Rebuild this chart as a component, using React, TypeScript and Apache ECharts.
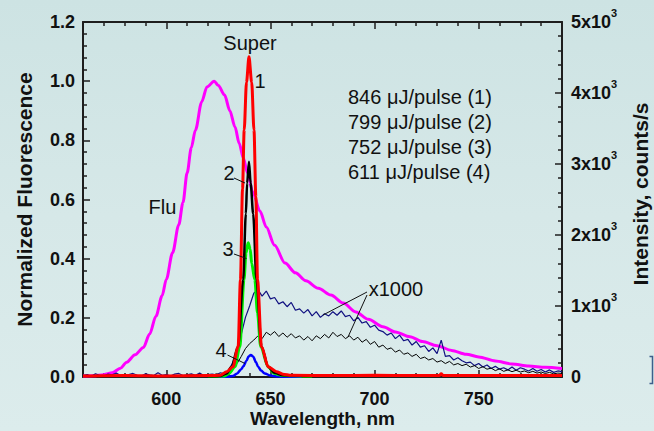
import { useEffect, useRef } from 'react';
import * as echarts from 'echarts';

// ---------- axis ticks ----------
const xMajorTicks = [600, 650, 700, 750];
const xMinorTicks = [570, 580, 590, 610, 620, 630, 640, 660, 670, 680, 690, 710, 720, 730, 740, 760, 770, 780];

// ---------- Flu (normalized, left axis) ----------
const fluWl = [560, 565, 570, 574, 578, 581, 585, 589, 592, 595, 598, 600, 603, 606, 608, 610, 612, 614, 617, 619.5, 623, 625, 628, 630.5, 633, 635, 637, 639, 641.5, 645, 648, 652, 657, 662, 667, 673, 679, 685, 691, 697, 704, 710, 717, 723, 730, 737, 744, 750, 758, 766, 774, 782, 790];
const fluVal = [0.003, 0.004, 0.008, 0.014, 0.03, 0.05, 0.075, 0.1, 0.145, 0.205, 0.275, 0.33, 0.42, 0.515, 0.59, 0.69, 0.775, 0.835, 0.93, 0.98, 1.0, 0.985, 0.953, 0.9, 0.845, 0.79, 0.74, 0.69, 0.625, 0.56, 0.507, 0.445, 0.385, 0.352, 0.325, 0.3, 0.277, 0.25, 0.22, 0.195, 0.17, 0.152, 0.136, 0.12, 0.106, 0.09, 0.077, 0.068, 0.054, 0.044, 0.037, 0.033, 0.029];

// ---------- Super emission (counts/s, right axis) ----------
const super1: [number, number][] = [[560, 15], [580, 22], [600, 15], [620, 20], [626, 25], [629, 75], [632, 145], [634.5, 430], [635.6, 1370], [636.6, 2650], [637.4, 3480], [638.5, 4150], [639.7, 4510], [641, 4150], [642.1, 3480], [643, 2540], [643.8, 1370], [645.7, 430], [648.9, 145], [652.9, 75], [656, 40], [660, 25], [680, 20], [700, 25], [720, 20], [731, 20], [732, 45], [733, 20], [760, 20], [790, 20]];
const super2: [number, number][] = [[620, 10], [626, 15], [629, 50], [631.3, 145], [634.5, 430], [636.9, 1370], [638.2, 2300], [638.8, 2730], [639.7, 3030], [640.5, 2730], [641.7, 2300], [643.3, 1370], [645.7, 430], [648.9, 145], [652, 60], [656, 25], [670, 15]];
const super3: [number, number][] = [[620, 10], [628, 15], [630, 50], [633, 145], [635.3, 430], [637.3, 1370], [638.3, 1750], [639.3, 1890], [640.3, 1800], [641, 1600], [642.5, 1370], [643.8, 900], [645.3, 430], [648.9, 145], [652, 50], [656, 20], [670, 10]];
const super4: [number, number][] = [[625, 5], [630, 5], [632, 15], [634, 50], [636, 110], [637, 150], [638.5, 230], [639.5, 290], [640.6, 310], [641.7, 290], [643, 210], [644.1, 145], [645.5, 90], [647.3, 50], [650, 20], [653, 8], [656, 5], [665, 5]];

// ---------- x1000 spectra (counts/s, right axis), sampled every 2 nm ----------
const navyStart = 560;
const blackStart = 610;
const sampleStep = 2;
const x1000Navy = [
  20, 35, 10, 45, 25, 15, 40, 30, 55, 20, 10, 35, 50, 25, 15, 45, 30, 20, 60, 25, 35, 15, 40, 50, 20, 30, 45, 25, 55, 20, 35, 40, 30, 60, 45,
  90, 210, 400, 600, 840, 1000, 1180, 1230, 1140, 1210, 1100, 1120, 1030, 1060, 990, 1050, 940, 960, 900, 950, 860, 920, 840, 890, 860, 920,
  870, 930, 850, 870, 790, 840, 760, 780, 700, 730, 660, 640, 590, 620, 540, 590, 510, 530, 450, 500, 420, 440, 360, 410, 330, 520, 290,
  300, 240, 270, 230, 200, 210, 160, 190, 140, 170, 120, 150, 110, 130, 100, 140, 95, 130, 110, 85, 120, 80, 105, 70, 100, 65, 85, 75,
];
const x1000Black = [
  15, 30, 20, 40, 25, 35, 20, 45, 30,
  50, 90, 140, 190, 290, 400, 470, 520, 580, 540, 630, 590, 640, 570, 620, 560, 610, 550, 580, 520, 570, 510, 580, 540, 600, 550, 630,
  570, 600, 540, 580, 520, 560, 490, 530, 460, 500, 420, 450, 390, 410, 350, 380, 320, 340, 290, 320, 260, 280, 240, 260, 210, 230, 190,
  220, 170, 190, 160, 180, 140, 160, 120, 145, 110, 125, 90, 115, 80, 100, 75, 95, 70, 85, 60, 80, 55, 70, 50, 65, 45, 55, 50,
];

// ---------- annotations ----------
const legendLines = ['846 μJ/pulse (1)', '799 μJ/pulse (2)', '752 μJ/pulse (3)', '611 μJ/pulse (4)'];

const FONT = '"Liberation Sans", Arial, Helvetica, sans-serif';
const AX = '#1e1e1e';

export default function App() {
  const ref = useRef<HTMLDivElement>(null);

  useEffect(() => {
    if (!ref.current) return;
    const chart = echarts.init(ref.current, undefined, { renderer: 'svg' });

    const fluData = fluWl.map((w, i) => [w, fluVal[i]]);
    const navyData = x1000Navy.map((v, i) => [navyStart + i * sampleStep, v]);
    const blackData = x1000Black.map((v, i) => [blackStart + i * sampleStep, v]);

    const baseX = {
      type: 'value' as const,
      min: 560,
      max: 790,
      splitLine: { show: false },
    };
    const tickStyle = { color: AX, width: 1.5 };
    const lineStyleAx = { color: AX, width: 2 };

    const lineSeries = (name: string, data: any, color: string, width: number, yAxisIndex: number, z: number, smooth: number | boolean) => ({
      name,
      type: 'line',
      data,
      xAxisIndex: 0,
      yAxisIndex,
      showSymbol: false,
      symbol: 'none',
      smooth,
      smoothMonotone: 'x',
      lineStyle: { color, width },
      z,
      silent: true,
    });

    const legendGraphics = legendLines.map((t, i) => ({
      type: 'text',
      x: 348,
      y: 97 + i * 25,
      z: 100,
      style: { text: t, fontSize: 20, fontFamily: FONT, fill: '#111', align: 'left', verticalAlign: 'middle' },
    }));

    const txt = (text: string, x: number, y: number) => ({
      type: 'text',
      x,
      y,
      z: 100,
      style: { text, fontSize: 20, fontFamily: FONT, fill: '#111', align: 'center', verticalAlign: 'middle' },
    });
    const leader = (x1: number, y1: number, x2: number, y2: number) => ({
      type: 'line',
      z: 100,
      shape: { x1, y1, x2, y2 },
      style: { stroke: '#111', lineWidth: 1 },
    });

    chart.setOption({
      animation: false,
      backgroundColor: 'transparent',
      grid: { left: 83, right: 92, top: 22, bottom: 54, containLabel: false, outerBoundsMode: 'none' },
      xAxis: [
        {
          ...baseX,
          position: 'bottom',
          axisLine: { show: true, onZero: false, lineStyle: lineStyleAx },
          axisTick: { show: true, inside: true, length: 7, customValues: xMajorTicks, lineStyle: tickStyle },
          axisLabel: {
            customValues: xMajorTicks,
            fontSize: 18,
            fontWeight: 'bold',
            fontFamily: FONT,
            color: '#111',
            margin: 13,
          },
          name: 'Wavelength, nm',
          nameLocation: 'middle',
          nameGap: 32,
          nameMoveOverlap: false,
          nameTextStyle: { fontSize: 19, fontWeight: 'bold', fontFamily: FONT, color: '#111' },
        },
        {
          ...baseX,
          position: 'bottom',
          axisLine: { show: false, onZero: false },
          axisTick: { show: true, inside: true, length: 4, customValues: xMinorTicks, lineStyle: tickStyle },
          axisLabel: { show: false },
        },
        {
          ...baseX,
          position: 'top',
          axisLine: { show: true, onZero: false, lineStyle: lineStyleAx },
          axisTick: { show: true, inside: true, length: 7, customValues: xMajorTicks, lineStyle: tickStyle },
          axisLabel: { show: false },
        },
        {
          ...baseX,
          position: 'top',
          axisLine: { show: false, onZero: false },
          axisTick: { show: true, inside: true, length: 4, customValues: xMinorTicks, lineStyle: tickStyle },
          axisLabel: { show: false },
        },
      ],
      yAxis: [
        {
          type: 'value',
          min: 0,
          max: 1.2,
          interval: 0.2,
          position: 'left',
          splitLine: { show: false },
          axisLine: { show: true, onZero: false, lineStyle: lineStyleAx },
          axisTick: { show: true, inside: true, length: 7, lineStyle: tickStyle },
          minorTick: { show: true, splitNumber: 5, length: 4, lineStyle: tickStyle },
          axisLabel: {
            formatter: (v: number) => v.toFixed(1),
            fontSize: 18,
            fontWeight: 'bold',
            fontFamily: FONT,
            color: '#111',
            margin: 8,
          },
          name: 'Normalized Fluorescence',
          nameLocation: 'middle',
          nameGap: 48,
          nameMoveOverlap: false,
          nameTextStyle: { fontSize: 21, fontWeight: 'bold', fontFamily: FONT, color: '#111' },
        },
        {
          type: 'value',
          min: 0,
          max: 5000,
          interval: 1000,
          position: 'right',
          splitLine: { show: false },
          axisLine: { show: true, onZero: false, lineStyle: lineStyleAx },
          axisTick: { show: true, inside: true, length: 7, lineStyle: tickStyle },
          minorTick: { show: true, splitNumber: 5, length: 4, lineStyle: tickStyle },
          axisLabel: {
            formatter: (v: number) => (v === 0 ? '{m|0}' : v % 1000 === 0 ? `{m|${v / 1000}x10}{s|3}` : ''),
            margin: 9,
            rich: {
              m: { fontSize: 18, fontWeight: 'bold', fontFamily: FONT, color: '#111', lineHeight: 30 },
              s: { fontSize: 11, fontWeight: 'bold', fontFamily: FONT, color: '#111', lineHeight: 12, verticalAlign: 'top' },
            },
          },
          name: 'Intensity, counts/s',
          nameLocation: 'middle',
          nameGap: 68,
          nameMoveOverlap: false,
          nameTextStyle: { fontSize: 21, fontWeight: 'bold', fontFamily: FONT, color: '#111', padding: [0, 0, 0, 11] },
        },
      ],
      series: [
        lineSeries('Flu', fluData, '#ff00ff', 3, 0, 2, 0.3),
        lineSeries('x1000 (navy)', navyData, '#101080', 1.2, 1, 3, false),
        lineSeries('x1000 (black)', blackData, '#000000', 1, 1, 4, false),
        lineSeries('611 μJ/pulse (4)', super4, '#0000ff', 2.5, 1, 5, 0.3),
        lineSeries('752 μJ/pulse (3)', super3, '#00f000', 3, 1, 6, 0.3),
        lineSeries('799 μJ/pulse (2)', super2, '#000000', 2.5, 1, 7, 0.3),
        lineSeries('846 μJ/pulse (1)', super1, '#ff0000', 3, 1, 8, 0.3),
      ],
      graphic: [
        ...legendGraphics,
        txt('Super', 250, 43),
        txt('1', 260, 81),
        txt('2', 229, 173),
        leader(234, 178, 245, 183),
        txt('3', 228, 249),
        leader(234, 254, 246.5, 258.5),
        txt('4', 221, 350),
        leader(227.5, 355, 245, 363.5),
        txt('Flu', 162.5, 207),
        txt('x1000', 396, 289),
        leader(367, 292, 323, 315),
        leader(367, 295, 348, 337),
        {
          type: 'polyline',
          z: 100,
          shape: { points: [[649.5, 356.5], [652.5, 356.5], [652.5, 383.5], [649.5, 383.5]] },
          style: { stroke: '#3d5f8c', lineWidth: 1.5, fill: 'none' },
        },
      ],
    });

    return () => chart.dispose();
  }, []);

  return (
    <div
      style={{
        position: 'fixed',
        left: 0,
        top: 0,
        width: 654,
        height: 431,
        background: 'linear-gradient(180deg, #cde3e3 0%, #d6e8e8 50%, #dcecec 100%)',
      }}
    >
      <div ref={ref} style={{ width: 654, height: 431 }} />
    </div>
  );
}
